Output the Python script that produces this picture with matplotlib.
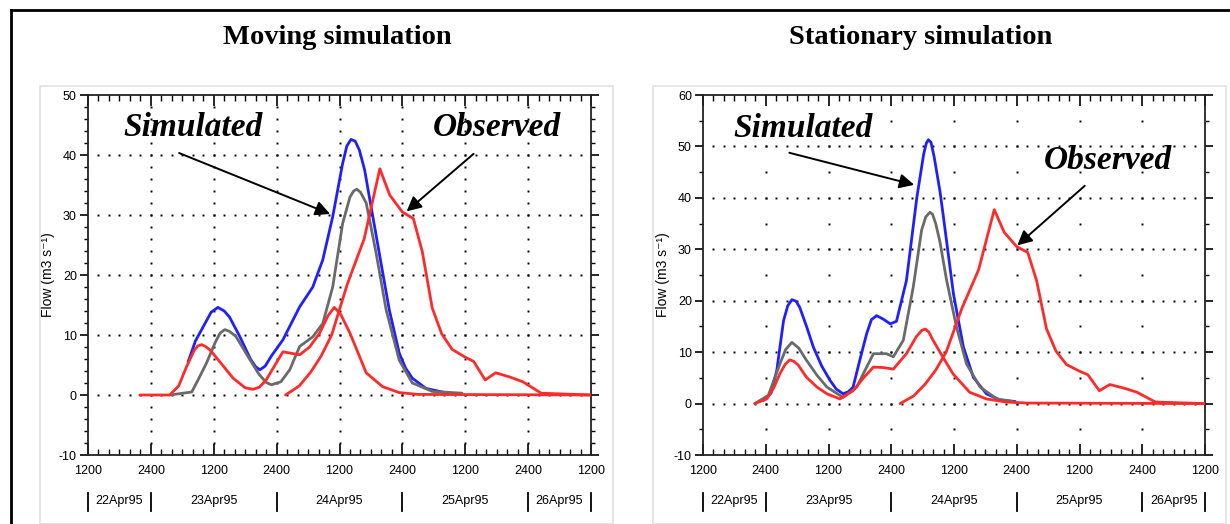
import numpy as np
import matplotlib
matplotlib.use('Agg')
import matplotlib.pyplot as plt
from matplotlib.lines import Line2D
from matplotlib.patches import Rectangle
import matplotlib.transforms as mtransforms

# time axis: hours since 22Apr95 12:00
# ---- Moving simulation
mov_blue_h = [19.1, 20.5, 22.0, 23.5, 24.8, 26.0, 27.0, 29.0, 31.0, 32.0, 32.8, 33.8, 35.0,
              37.2, 40.4, 42.9, 44.8, 46.7, 48.6, 49.4, 50.2, 51.0, 51.8, 52.8, 53.7, 55.6,
              57.5, 59.4, 60.6, 61.9, 64.5, 67.6, 69.8]
mov_blue = [5.5, 9.0, 11.4, 13.8, 14.6, 14.0, 13.0, 9.7, 6.0, 4.7, 4.2, 4.8, 6.5,
            9.2, 14.7, 18.0, 22.5, 29.7, 38.6, 41.5, 42.6, 42.3, 40.8, 37.5, 33.0, 23.6,
            14.2, 7.0, 4.5, 2.8, 1.1, 0.5, 0.2]
mov_grey_h = [15.6, 19.8, 21.0, 22.6, 24.3, 25.2, 26.1, 27.0, 28.2, 30.2, 32.6, 34.0, 35.0,
              36.8, 38.5, 40.4, 42.9, 44.8, 46.7, 48.6, 50.0, 50.7, 51.3, 52.0, 53.1, 55.0,
              56.9, 59.4, 61.9, 65.7, 71.4]
mov_grey = [0, 0.5, 2.5, 5.3, 8.8, 10.3, 10.9, 10.6, 9.8, 6.9, 3.5, 2.1, 1.7,
            2.2, 4.2, 8.1, 9.7, 11.9, 18.0, 28.6, 33.0, 34.0, 34.3, 33.8, 32.0, 23.6,
            14.2, 5.8, 2.0, 0.6, 0.3]
mov_red_h = [9.9, 15.6, 17.3, 18.8, 20.3, 21.0, 21.7, 22.4, 23.3, 25.1, 27.7, 30.0, 31.5,
             32.7, 34.0, 37.2, 40.4, 42.3, 44.2, 45.8, 47.0, 48.2, 50.0, 53.1, 56.2, 59.4,
             63.0, 96.0]
mov_red = [0, 0, 1.5, 4.7, 7.5, 8.2, 8.4, 8.1, 7.5, 5.6, 2.8, 1.2, 0.95,
           1.3, 2.5, 7.2, 6.7, 8.0, 10.3, 13.2, 14.6, 13.5, 10.3, 3.7, 1.4, 0.4,
           0.1, 0]

# ---- Stationary simulation
sta_blue_h = [11.5, 13.0, 14.1, 15.4, 16.2, 17.0, 17.8, 18.5, 19.8, 21.1, 22.7, 24.3, 25.5,
              26.8, 27.8, 28.7, 30.0, 31.3, 32.2, 33.2, 34.5, 35.8, 37.0, 38.9, 40.9, 42.2,
              42.7, 43.1, 43.6, 44.2, 45.3, 45.9, 47.9, 49.8, 51.7, 54.2, 56.8, 59.7]
sta_blue = [0.6, 2.0, 6.4, 16.1, 19.0, 20.2, 19.9, 18.7, 15.0, 11.0, 7.3, 4.5, 2.8,
            1.9, 2.3, 3.2, 8.5, 13.6, 16.3, 17.1, 16.4, 15.5, 16.0, 23.9, 40.1, 48.5,
            50.6, 51.3, 50.8, 48.0, 41.4, 36.9, 21.3, 11.0, 5.1, 1.9, 0.7, 0.4]
sta_grey_h = [9.9, 12.5, 14.7, 15.8, 17.0, 18.3, 19.8, 21.8, 23.7, 26.8, 29.4, 31.0, 32.6,
              35.1, 36.4, 38.3, 40.2, 41.8, 42.6, 43.4, 43.9, 44.5, 45.3, 46.6, 48.5, 50.4,
              53.0, 56.2, 59.3]
sta_grey = [0, 1.6, 7.7, 10.5, 11.9, 10.8, 8.4, 5.5, 3.2, 1.2, 3.2, 6.5, 9.7,
            9.7, 9.1, 12.3, 22.6, 33.7, 36.3, 37.2, 36.8, 35.0, 31.5, 23.9, 14.8, 7.7,
            3.2, 0.9, 0.4]
sta_red_h = [9.9, 12.2, 13.5, 14.7, 15.7, 16.6, 17.4, 18.2, 19.8, 21.8, 23.7, 26.2, 28.7,
             30.7, 32.6, 34.5, 36.4, 38.9, 40.8, 41.8, 42.5, 43.2, 44.0, 45.9, 47.8, 51.0,
             54.2, 58.0, 62.0, 96.0]
sta_red = [0, 0.9, 3.0, 5.8, 7.6, 8.5, 8.2, 7.5, 5.1, 3.2, 1.9, 0.9, 2.5,
           5.0, 7.1, 7.0, 6.7, 9.7, 13.0, 14.2, 14.5, 13.9, 12.3, 9.0, 5.8, 2.2,
           0.9, 0.3, 0.1, 0]

# ---- Observed flow (same in both panels)
obs_h = [37.7, 40.3, 42.5, 44.5, 46.5, 49.5, 52.7, 55.7, 57.6, 60.0, 62.1, 63.8,
         65.7, 67.5, 69.5, 72.0, 73.6, 75.8, 77.8, 80.5, 83.0, 86.5, 96.0]
obs = [0, 1.5, 3.8, 6.5, 10.0, 18.5, 26.0, 37.7, 33.3, 30.5, 29.4, 23.9,
       14.5, 10.2, 7.6, 6.3, 5.6, 2.5, 3.7, 3.0, 2.2, 0.3, 0]

xticks = np.arange(0, 97, 12)
xlabels = ['1200', '2400'] * 4 + ['1200']
days = ['22Apr95', '23Apr95', '24Apr95', '25Apr95', '26Apr95']
day_pos = [6, 24, 48, 72, 90]
day_sep = [0, 12, 36, 60, 84, 96]

BLUE = '#1f1fff'
GREY = '#6a6a6a'
RED = '#ff2a2a'
sans = ['Liberation Sans', 'DejaVu Sans']
serif = ['Liberation Serif', 'DejaVu Serif']

fig = plt.figure(figsize=(12.3, 5.24), dpi=100)

# faint panel frames and outer border
for x0, x1 in [(40, 613), (653, 1226)]:
    fig.patches.append(Rectangle((x0 / 1230, 0), (x1 - x0) / 1230, 1 - 86 / 524,
                                 transform=fig.transFigure, fill=False,
                                 ec='#e2e2e2', lw=1.2))
fig.lines.append(Line2D([11 / 1230, 1], [1 - 10 / 524] * 2, transform=fig.transFigure,
                        color='black', lw=2))
fig.lines.append(Line2D([11 / 1230] * 2, [0, 1 - 10 / 524], transform=fig.transFigure,
                        color='black', lw=2))


def setup(ax, ymin, ymax, yminor):
    ax.set_xlim(0, 96)
    ax.set_ylim(ymin, ymax)
    ax.set_xticks(xticks)
    ax.set_xticklabels(xlabels, family=sans, fontsize=9)
    ax.set_xticks(np.arange(0, 97, 2), minor=True)
    yt = np.arange(ymin, ymax + 1, 10)
    ax.set_yticks(yt)
    ax.set_yticklabels([str(v) for v in yt], family=sans, fontsize=9)
    ax.set_yticks(np.arange(ymin, ymax + 0.1, yminor), minor=True)
    ax.tick_params(axis='x', which='both', direction='in', top=True, bottom=True, pad=7)
    ax.tick_params(axis='x', which='major', length=8, width=1.2)
    ax.tick_params(axis='x', which='minor', length=4, width=1)
    ax.tick_params(axis='y', which='both', direction='out', left=True, right=True, pad=2)
    ax.tick_params(axis='y', which='major', length=6, width=1.2)
    ax.tick_params(axis='y', which='minor', length=3, width=1)
    for s in ax.spines.values():
        s.set_linewidth(1.3)
        s.set_color('#222222')
    ax.set_ylabel('Flow (m3 s\u207b\u00b9)', family=sans, fontsize=10, labelpad=3)
    # dotted grid
    xm = np.arange(2, 95, 2)
    for y in yt[1:-1]:
        ax.plot(xm, [y] * len(xm), ls='none', marker='s', ms=1.4, mew=0, color='black', zorder=1)
    ym = np.arange(ymin + yminor, ymax, yminor)
    for x in xticks[1:-1]:
        ax.plot([x] * len(ym), ym, ls='none', marker='s', ms=1.4, mew=0, color='black', zorder=1)
    # day row
    tr = mtransforms.blended_transform_factory(ax.transData, ax.transAxes)
    for d, p in zip(days, day_pos):
        ax.text(p, -0.128, d, transform=tr, ha='center', va='center', family=sans, fontsize=9)
    for s in day_sep:
        ax.plot([s, s], [-0.105, -0.155], transform=tr, color='black', lw=1.3, clip_on=False)


def curves(ax, bh, b, gh, g, rh, r):
    kw = dict(lw=2, solid_joinstyle='round', solid_capstyle='round')
    ax.plot(bh, b, color=BLUE, zorder=3, **kw)
    ax.plot(gh, g, color=GREY, zorder=3, **kw)
    ax.plot(rh, r, color=RED, zorder=4, **kw)
    ax.plot(obs_h, obs, color=RED, zorder=4, **kw)


def label(ax, text, xy, xytext, tail):
    ax.text(xytext[0], xytext[1], text, ha='center', va='center', family=serif,
            fontsize=24, fontweight='bold', style='italic', zorder=6)
    ax.annotate('', xy=xy, xytext=tail,
                arrowprops=dict(arrowstyle='-|>', color='black', lw=1.4, mutation_scale=22),
                zorder=6)


ax1 = fig.add_axes([88 / 1230, 1 - 455 / 524, 503 / 1230, 360 / 524])
setup(ax1, -10, 50, 2)
curves(ax1, mov_blue_h, mov_blue, mov_grey_h, mov_grey, mov_red_h, mov_red)
label(ax1, 'Simulated', (46.7, 30.0), (20.0, 44.5), (16.9, 40.5))
label(ax1, 'Observed', (60.4, 30.3), (78.1, 44.5), (74.0, 40.5))

ax2 = fig.add_axes([703 / 1230, 1 - 455 / 524, 502 / 1230, 360 / 524])
setup(ax2, -10, 60, 5)
curves(ax2, sta_blue_h, sta_blue, sta_grey_h, sta_grey, sta_red_h, sta_red)
label(ax2, 'Simulated', (40.9, 42.4), (19.1, 53.5), (16.0, 48.9))
label(ax2, 'Observed', (59.7, 30.4), (77.4, 47.3), (73.4, 42.7))

fig.text(337 / 1230, 1 - 38 / 524, 'Moving simulation', ha='center', va='center',
         family=serif, fontsize=20.5, fontweight='bold')
fig.text(921 / 1230, 1 - 38 / 524, 'Stationary simulation', ha='center', va='center',
         family=serif, fontsize=20.5, fontweight='bold')

fig.savefig('out.png', dpi=100)
